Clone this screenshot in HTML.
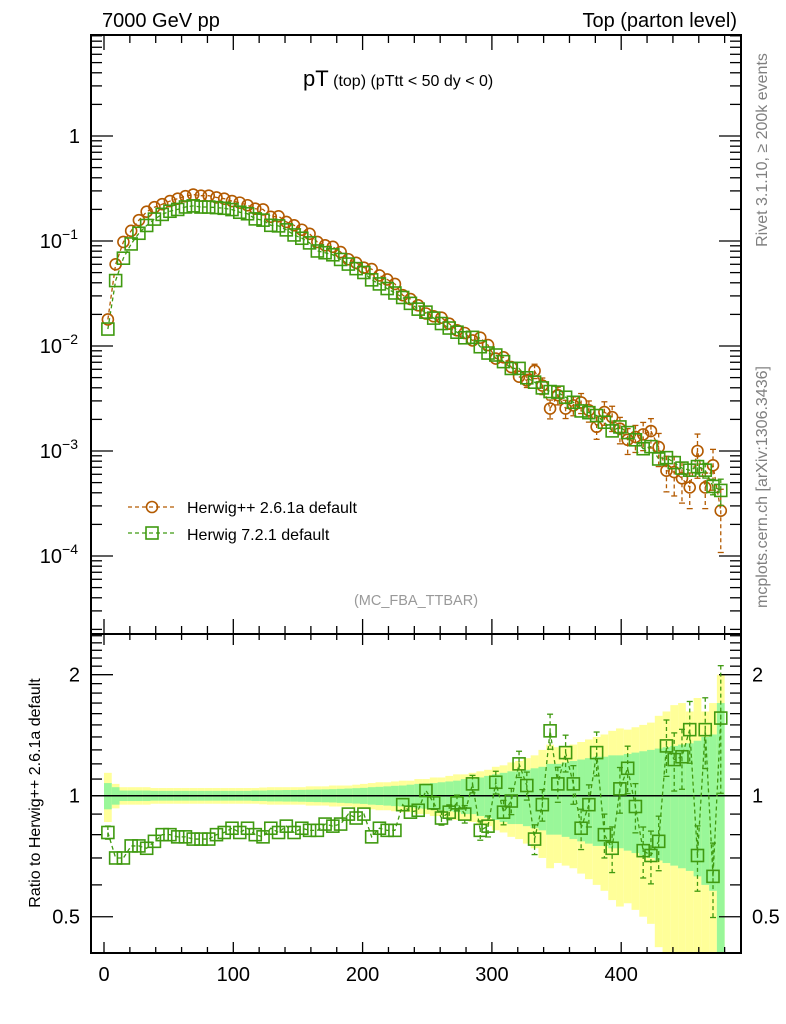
<!DOCTYPE html>
<html><head><meta charset="utf-8">
<style>
html,body{margin:0;padding:0;background:#fff;}
svg{display:block;font-family:"Liberation Sans",sans-serif;}
</style></head>
<body>
<svg id="chart" width="786" height="1024" viewBox="0 0 786 1024" xmlns="http://www.w3.org/2000/svg">
  <rect x="0" y="0" width="786" height="1024" fill="#fff"/>
  <text x="102" y="27" font-size="20">7000 GeV pp</text>
  <text x="737" y="27" font-size="20" text-anchor="end">Top (parton level)</text>
  <text x="303" y="86" font-size="16"><tspan font-size="22">pT</tspan> (top)  (pTtt &lt; 50 dy &lt; 0)</text>
  <text transform="translate(767,150) rotate(-90)" font-size="16" fill="#808080" text-anchor="middle">Rivet 3.1.10, ≥ 200k events</text>
  <text transform="translate(767,487) rotate(-90)" font-size="16" fill="#808080" text-anchor="middle">mcplots.cern.ch [arXiv:1306.3436]</text>
  <text x="416" y="605" font-size="14.5" fill="#999" text-anchor="middle">(MC_FBA_TTBAR)</text>
  <text transform="translate(40,793) rotate(-90)" font-size="16" text-anchor="middle">Ratio to Herwig++ 2.6.1a default</text>
  <g id="bands"></g>
  <g id="axes"></g>
  <g id="series"></g>
  <g id="legend">
    <g>
      <line x1="128" y1="507" x2="176" y2="507" stroke="#b35a00" stroke-width="1.3" stroke-dasharray="4,3"/>
      <circle cx="152" cy="507" r="5.5" fill="none" stroke="#b35a00" stroke-width="1.6"/>
      <text x="187" y="513" font-size="16">Herwig++ 2.6.1a default</text>
    </g>
    <g>
      <line x1="128" y1="533" x2="176" y2="533" stroke="#3f9a10" stroke-width="1.3" stroke-dasharray="4,3"/>
      <rect x="146" y="527" width="12" height="12" fill="none" stroke="#3f9a10" stroke-width="1.6"/>
      <text x="187" y="540" font-size="16">Herwig 7.2.1 default</text>
    </g>
  </g>
</svg>
<script>
const binLow = Array.from({length:80},(_,i)=>i*6);
const herwigpp = [0.0179,0.060,0.098,0.125,0.158,0.19,0.21,0.224,0.24,0.253,0.267,0.277,0.27,0.27,0.26,0.253,0.24,0.232,0.219,0.203,
0.2,0.17,0.172,0.152,0.141,0.128,0.117,0.098,0.091,0.088,0.0785,0.067,0.062,0.0557,0.054,0.047,0.043,0.039,0.0305,0.028,
0.0244,0.0204,0.0192,0.0186,0.0163,0.0141,0.0133,0.0113,0.012,0.0102,0.0076,0.0078,0.0063,0.0051,0.0047,0.0058,0.0042,0.00254,0.0034,0.00254,
0.00272,0.0029,0.00244,0.0017,0.00235,0.0021,0.00163,0.00128,0.00136,0.00144,0.00155,0.00109,0.00065,0.00063,0.00055,0.00045,0.0010,0.00045,0.00073,0.00027];
const ratio = [0.81,0.70,0.70,0.75,0.75,0.74,0.77,0.80,0.80,0.79,0.79,0.78,0.78,0.78,0.80,0.81,0.83,0.81,0.83,0.80,
0.79,0.83,0.81,0.84,0.81,0.83,0.82,0.82,0.85,0.84,0.85,0.90,0.88,0.90,0.79,0.83,0.82,0.82,0.95,0.91,
0.92,1.03,0.96,0.88,0.91,0.96,0.90,1.07,0.82,0.84,1.08,0.91,0.97,1.20,1.06,0.78,0.95,1.45,1.07,1.28,
1.07,0.83,0.95,1.28,0.80,0.74,1.04,1.17,0.94,0.73,0.71,0.77,1.33,1.23,1.25,1.46,0.71,1.46,0.63,1.56];
const yellowErr = [0.14,0.07,0.05,0.05,0.05,0.05,0.045,0.045,0.045,0.045,0.045,0.045,0.045,0.045,0.045,0.045,0.045,0.045,0.045,0.045,
0.048,0.05,0.05,0.05,0.05,0.05,0.055,0.055,0.055,0.06,0.06,0.06,0.065,0.07,0.075,0.08,0.08,0.085,0.09,0.09,
0.1,0.1,0.11,0.11,0.12,0.13,0.13,0.14,0.15,0.16,0.18,0.19,0.21,0.22,0.24,0.26,0.3,0.34,0.32,0.33,
0.34,0.36,0.38,0.40,0.42,0.45,0.47,0.46,0.48,0.50,0.52,0.58,0.62,0.68,0.70,0.62,0.75,0.62,0.70,1.0];
const greenErr = [0.075,0.05,0.03,0.03,0.03,0.03,0.028,0.028,0.028,0.028,0.028,0.028,0.028,0.028,0.028,0.028,0.028,0.028,0.028,0.03,
0.03,0.032,0.032,0.033,0.033,0.034,0.035,0.036,0.037,0.038,0.04,0.042,0.044,0.046,0.05,0.052,0.055,0.058,0.06,0.065,
0.07,0.072,0.075,0.08,0.085,0.09,0.1,0.1,0.11,0.12,0.13,0.14,0.15,0.15,0.16,0.17,0.18,0.2,0.2,0.21,
0.22,0.23,0.24,0.25,0.25,0.26,0.26,0.27,0.28,0.29,0.3,0.31,0.32,0.33,0.34,0.35,0.37,0.4,0.42,0.7];
const xTicks = [0,100,200,300,400];
const mainDecades = [0,-1,-2,-3,-4];
const ratioTicks = [0.5,1,2];

const NS="http://www.w3.org/2000/svg";
const L=91,R=741,T=35,MB=634,B=953;
const xs=v=>104+v*1.293;
const yM=v=>136-105*Math.log10(v);
const yR=r=>795.7-402*Math.log10(r);
function mk(tag,parent,attrs){const e=document.createElementNS(NS,tag);for(const k in attrs)e.setAttribute(k,attrs[k]);parent.appendChild(e);return e;}
const bands=document.getElementById('bands'),axes=document.getElementById('axes'),series=document.getElementById('series');
const clampR=r=>Math.max(MB,Math.min(B,r));
const clampM=y=>Math.max(T,Math.min(MB,y));

binLow.forEach((lo,i)=>{
  const x0=xs(lo),x1=xs(lo+6);
  const yu=clampR(yR(1+yellowErr[i])),yl=clampR(yR(Math.max(0.3,1-yellowErr[i])));
  const r=mk('rect',bands,{x:x0,y:yu,width:x1-x0,height:yl-yu,fill:'#ffff99'});
  
  
});
binLow.forEach((lo,i)=>{
  const x0=xs(lo),x1=xs(lo+6);
  const yu=clampR(yR(1+greenErr[i])),yl=clampR(yR(Math.max(0.3,1-greenErr[i])));
  const r=mk('rect',bands,{x:x0,y:yu,width:x1-x0,height:yl-yu,fill:'#99f799'});
  
  
});
mk('line',bands,{x1:L,x2:R,y1:yR(1),y2:yR(1),stroke:'#000','stroke-width':1.5});

mk('rect',axes,{x:L,y:T,width:R-L,height:MB-T,fill:'none',stroke:'#000','stroke-width':2});
mk('rect',axes,{x:L,y:MB,width:R-L,height:B-MB,fill:'none',stroke:'#000','stroke-width':2});

for(let v=0;v<=480;v+=20){
  const x=xs(v),maj=(v%100===0);
  mk('line',axes,{x1:x,x2:x,y1:T,y2:T+(maj?15:8),stroke:'#000','stroke-width':1.3});
  mk('line',axes,{x1:x,x2:x,y1:MB,y2:MB-(maj?15:8),stroke:'#000','stroke-width':1.3});
  mk('line',axes,{x1:x,x2:x,y1:MB,y2:MB+(maj?11:6),stroke:'#000','stroke-width':1.3});
  mk('line',axes,{x1:x,x2:x,y1:B,y2:B-(maj?11:6),stroke:'#000','stroke-width':1.3});
}
xTicks.forEach(v=>{
  const t=mk('text',axes,{x:xs(v),y:981,'font-size':20,'text-anchor':'middle'});
  t.textContent=v;
  
  
});

for(let d=-5;d<=1;d++){
  for(let m=1;m<=9;m++){
    const v=m*Math.pow(10,d),y=yM(v);
    if(y<T||y>MB)continue;
    const len=m===1?22:11;
    mk('line',axes,{x1:L,x2:L+len,y1:y,y2:y,stroke:'#000','stroke-width':1.3});
    mk('line',axes,{x1:R,x2:R-len,y1:y,y2:y,stroke:'#000','stroke-width':1.3});
  }
}
mainDecades.forEach(d=>{
  const y=yM(Math.pow(10,d));
  let t;
  if(d===0){t=mk('text',axes,{x:80,y:y+7,'font-size':20,'text-anchor':'end'});t.textContent='1';}
  else{
    t=mk('text',axes,{x:78,y:y+7,'font-size':20,'text-anchor':'end'});
    const a=mk('tspan',t,{});a.textContent='10';
    const b=mk('tspan',t,{'font-size':14,dy:-9});b.textContent='−'+(-d);
  }
  
  
});

for(let r=0.5;r<=2.51;r+=0.1){
  const y=yR(r); if(y<MB||y>B)continue;
  const maj=ratioTicks.some(v=>Math.abs(v-r)<1e-6);
  const len=maj?22:11;
  mk('line',axes,{x1:L,x2:L+len,y1:y,y2:y,stroke:'#000','stroke-width':1.3});
  mk('line',axes,{x1:R,x2:R-len,y1:y,y2:y,stroke:'#000','stroke-width':1.3});
}
ratioTicks.forEach(r=>{
  const y=yR(r);
  const t=mk('text',axes,{x:80,y:y+7,'font-size':20,'text-anchor':'end'});t.textContent=r;
  
  
  const t2=mk('text',axes,{x:752,y:y+7,'font-size':20});t2.textContent=r;
  
  
});

const OR='#b35a00',GR='#3f9a10';
const centers=binLow.map(v=>xs(v+3));
const h7=herwigpp.map((v,i)=>v*ratio[i]);
function poly(pts,col){mk('polyline',series,{points:pts.map(p=>p.join(',')).join(' '),fill:'none',stroke:col,'stroke-width':1.3,'stroke-dasharray':'4,3'});}
function errbar(x,y1,y2,col){
  if(Math.abs(y2-y1)<13)return;
  mk('line',series,{x1:x,x2:x,y1:y1,y2:y2,stroke:col,'stroke-width':1.3,'stroke-dasharray':'4,3'});
  mk('line',series,{x1:x-3,x2:x+3,y1:y1,y2:y1,stroke:col,'stroke-width':1.3});
  mk('line',series,{x1:x-3,x2:x+3,y1:y2,y2:y2,stroke:col,'stroke-width':1.3});
}
poly(centers.map((x,i)=>[x,yM(herwigpp[i])]),OR);
poly(centers.map((x,i)=>[x,yM(h7[i])]),GR);
poly(centers.map((x,i)=>[x,yR(ratio[i])]),GR);
centers.forEach((x,i)=>{
  const e=yellowErr[i]*0.6;
  errbar(x,clampM(yM(herwigpp[i]*(1+e))),clampM(yM(herwigpp[i]*Math.max(0.05,1-e))),OR);
  const c=mk('circle',series,{cx:x,cy:yM(herwigpp[i]),r:5.5,fill:'none',stroke:OR,'stroke-width':1.6});
  
  
});
centers.forEach((x,i)=>{
  const g=greenErr[i]*0.4;
  errbar(x,yM(h7[i]*(1+g)),yM(h7[i]*(1-g)),GR);
  const y=yM(h7[i]);
  const s=mk('rect',series,{x:x-6,y:y-6,width:12,height:12,fill:'none',stroke:GR,'stroke-width':1.6});
  
  
  const ge=greenErr[i]*0.5;
  errbar(x,clampR(yR(ratio[i]*(1+ge))),clampR(yR(ratio[i]*(1-ge))),GR);
  const yr=yR(ratio[i]);
  const s2=mk('rect',series,{x:x-6,y:yr-6,width:12,height:12,fill:'none',stroke:GR,'stroke-width':1.6});
  
  
});
</script>
</body></html>
